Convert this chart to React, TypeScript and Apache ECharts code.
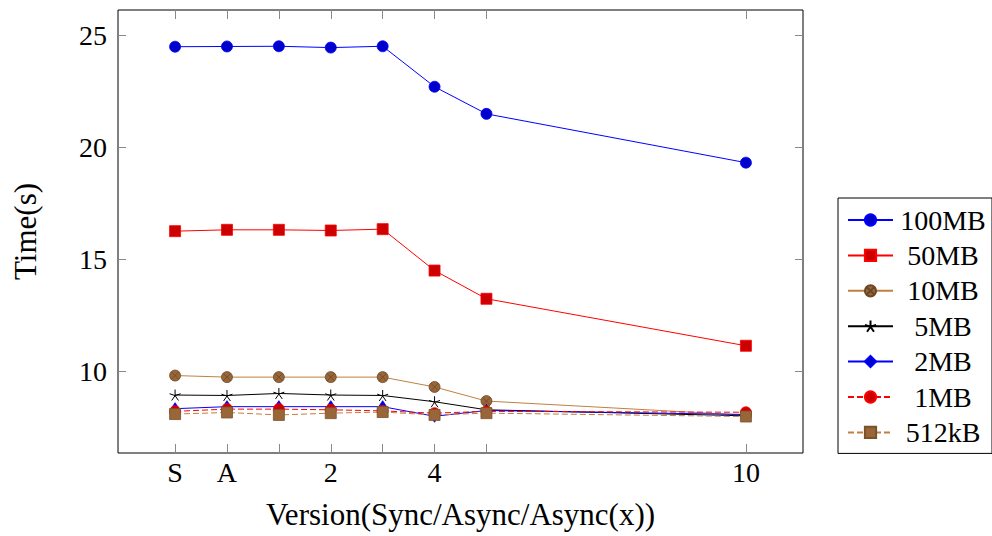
import React, { useEffect, useRef } from "react";
import * as echarts from "echarts";

const X = [-1, 0, 1, 2, 3, 4, 5, 10];
const xTickValues = [-1, 0, 1, 2, 3, 4, 5, 10];
const xLabelValues = [-1, 0, 2, 4, 10];
const xLabelText: Record<string, string> = { "-1": "S", "0": "A", "2": "2", "4": "4", "10": "10" };
const yTickValues = [10, 15, 20, 25];

const t100MB = [24.49, 24.5, 24.51, 24.45, 24.51, 22.7, 21.49, 19.31];
const t50MB = [16.25, 16.31, 16.31, 16.28, 16.34, 14.49, 13.23, 11.13];
const t10MB = [9.8, 9.73, 9.73, 9.73, 9.73, 9.29, 8.66, 8.03];
const t5MB = [8.93, 8.91, 9.0, 8.93, 8.91, 8.63, 8.27, 8.0];
const t2MB = [8.32, 8.41, 8.41, 8.41, 8.41, 7.98, 8.24, 8.06];
const t1MB = [8.2, 8.3, 8.3, 8.27, 8.22, 8.12, 8.2, 8.16];
const t512kB = [8.08, 8.15, 8.04, 8.12, 8.17, 8.04, 8.12, 7.97];

const FONT = "Liberation Serif";
const STAR =
  "path://M5,0 L5,5 M0.245,3.455 L5,5 M9.755,3.455 L5,5 M2.061,9.045 L5,5 M7.939,9.045 L5,5";
const OTIMES =
  "path://M10,5 A5,5 0 1,1 0,5 A5,5 0 1,1 10,5 Z M1.46,1.46 L8.54,8.54 M8.54,1.46 L1.46,8.54";

export default function App() {
  const ref = useRef<HTMLDivElement>(null);
  useEffect(() => {
    if (!ref.current) return;
    const chart = echarts.init(ref.current, null, { renderer: "svg" });
    const pts = (ys: number[]) => X.map((x, i) => [x, ys[i]]);
    const mk = (
      name: string,
      ys: number[],
      line: string,
      symbol: string,
      size: any,
      fill: string,
      border: string,
      dashed = false,
      borderWidth = 0.8
    ) => ({
      name,
      type: "line",
      data: pts(ys),
      symbol,
      symbolSize: size,
      showSymbol: true,
      color: line,
      lineStyle: { color: line, width: 1, type: dashed ? [6, 3] : "solid" },
      itemStyle: { color: fill, borderColor: border, borderWidth },
      emphasis: { disabled: true },
      z: 2,
    });
    const tick = (len: number, values: number[]) => ({
      show: true,
      inside: true,
      length: len,
      customValues: values,
      lineStyle: { color: "#888", width: 1 },
    });
    chart.setOption({
      animation: false,
      textStyle: { fontFamily: FONT },
      grid: {
        left: 118,
        right: 189,
        top: 10,
        bottom: 83,
        show: true,
        borderColor: "#000",
        borderWidth: 1,
        backgroundColor: "transparent",
      },
      legend: {
        orient: "vertical",
        left: 838,
        top: 198,
        padding: [8, 4, 7, 9],
        itemWidth: 45,
        itemHeight: 14,
        itemGap: 7.4,
        borderColor: "#000",
        borderWidth: 1,
        formatter: "{a|{name}}",
        textStyle: {
          fontFamily: FONT,
          fontSize: 28,
          color: "#000",
          rich: { a: { width: 90, align: "center", fontSize: 28, lineHeight: 28, fontFamily: FONT, color: "#000" } },
        },
        data: ["100MB", "50MB", "10MB", "5MB", "2MB", "1MB", "512kB"],
      },
      xAxis: [
        {
          type: "value",
          min: -2.1,
          max: 11.1,
          name: "Version(Sync/Async/Async(x))",
          nameLocation: "middle",
          nameGap: 46,
          nameTextStyle: { fontFamily: FONT, fontSize: 31, color: "#000" },
          axisLine: { show: false, onZero: false },
          splitLine: { show: false },
          axisTick: tick(9, xTickValues),
          axisLabel: {
            customValues: xLabelValues,
            formatter: (v: number) => xLabelText[String(v)] ?? "",
            fontFamily: FONT,
            fontSize: 28,
            color: "#000",
            margin: 5,
          },
        },
        {
          type: "value",
          position: "top",
          min: -2.1,
          max: 11.1,
          axisLine: { show: false, onZero: false },
          splitLine: { show: false },
          axisTick: tick(9, xTickValues),
          axisLabel: { show: false },
        },
      ],
      yAxis: [
        {
          type: "value",
          position: "left",
          min: 6.34,
          max: 26.13,
          name: "Time(s)",
          nameLocation: "middle",
          nameGap: 77,
          nameTextStyle: { fontFamily: FONT, fontSize: 31, color: "#000" },
          axisLine: { show: false, onZero: false },
          splitLine: { show: false },
          axisTick: tick(8, yTickValues),
          axisLabel: { customValues: yTickValues, fontFamily: FONT, fontSize: 28, color: "#000", margin: 11 },
        },
        {
          type: "value",
          position: "right",
          min: 6.34,
          max: 26.13,
          axisLine: { show: false, onZero: false },
          splitLine: { show: false },
          axisTick: tick(8, yTickValues),
          axisLabel: { show: false },
        },
      ],
      series: [
        mk("100MB", t100MB, "#0000ff", "circle", 11, "#0000cc", "#0000ff"),
        mk("50MB", t50MB, "#ff0000", "rect", 11, "#cc0000", "#ff0000"),
        mk("10MB", t10MB, "#bf8040", OTIMES, 11, "#99663a", "#6b4724"),
        mk("5MB", t5MB, "#000000", STAR, 11, "none", "#000000", false, 1),
        mk("2MB", t2MB, "#0000ff", "diamond", [8, 12], "#0000cc", "#0000ff"),
        mk("1MB", t1MB, "#ff0000", "circle", 11, "#cc0000", "#ff0000", true),
        mk("512kB", t512kB, "#bf8040", "rect", 11, "#99663a", "#7a5229", true),
      ],
    });
    return () => chart.dispose();
  }, []);
  return <div ref={ref} style={{ width: 992, height: 536, position: "absolute", left: 0, top: 0 }} />;
}
